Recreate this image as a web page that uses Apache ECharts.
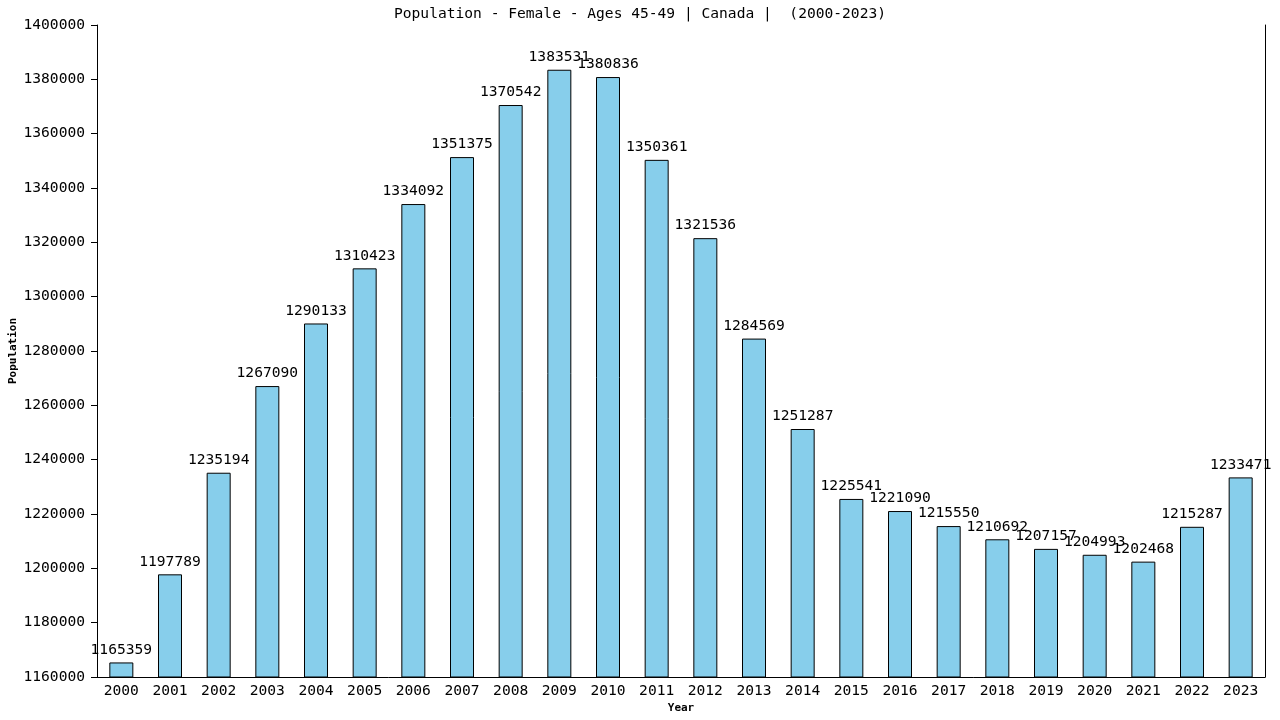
<!DOCTYPE html>
<html><head><meta charset="utf-8">
<script src="https://cdn.jsdelivr.net/npm/echarts@6/dist/echarts.min.js"></script>
<style>html,body{margin:0;padding:0;background:#fff}#c{width:1280px;height:720px}</style>
</head><body><div id="c"></div>
<script>
const years = ['2000','2001','2002','2003','2004','2005','2006','2007','2008','2009','2010','2011','2012','2013','2014','2015','2016','2017','2018','2019','2020','2021','2022','2023'];
const population = [1165359,1197789,1235194,1267090,1290133,1310423,1334092,1351375,1370542,1383531,1380836,1350361,1321536,1284569,1251287,1225541,1221090,1215550,1210692,1207157,1204993,1202468,1215287,1233471];
const yTicks = {min:1160000, max:1400000, interval:20000};
const font = 'DejaVu Sans Mono';
const fs = 14.6;
const chart = echarts.init(document.getElementById('c'));
chart.setOption({
  animation:false,
  backgroundColor:'#fff',
  title:{text:'Population - Female - Ages 45-49 | Canada |  (2000-2023)',left:'center',top:2,
    textStyle:{fontFamily:font,fontSize:fs,fontWeight:'normal',color:'#000'}},
  grid:{left:97,right:15,top:25,bottom:43,containLabel:false,outerBoundsMode:'none'},
  xAxis:{type:'category',data:years,name:'Year',nameLocation:'middle',nameGap:26,nameMoveOverlap:false,
    nameTextStyle:{fontFamily:font,fontSize:11,fontWeight:'bold',color:'#000'},
    axisLine:{lineStyle:{color:'#000',width:1}},axisTick:{show:false},
    axisLabel:{fontFamily:font,fontSize:fs,color:'#000',margin:7,interval:0},
    splitLine:{show:false}},
  yAxis:[{type:'value',min:yTicks.min,max:yTicks.max,interval:yTicks.interval,name:'Population',
    nameLocation:'middle',nameGap:78,nameRotate:90,nameMoveOverlap:false,
    nameTextStyle:{fontFamily:font,fontSize:11,fontWeight:'bold',color:'#000'},
    axisLine:{show:true,lineStyle:{color:'#000',width:1}},
    axisTick:{show:true,length:6,lineStyle:{color:'#000'}},
    axisLabel:{fontFamily:font,fontSize:fs,color:'#000',margin:12,formatter:v=>String(v)},
    splitLine:{show:false}},
    {type:'value',min:yTicks.min,max:yTicks.max,interval:yTicks.interval,position:'right',
    axisLine:{show:true,lineStyle:{color:'#000',width:1}},axisTick:{show:false},axisLabel:{show:false},splitLine:{show:false}}],
  series:[{type:'bar',data:population,barWidth:24,
    itemStyle:{color:'#87ceeb',borderColor:'#000',borderWidth:1},
    label:{show:true,position:'top',distance:5,fontFamily:font,fontSize:fs,color:'#000'}}]
});
</script></body></html>
